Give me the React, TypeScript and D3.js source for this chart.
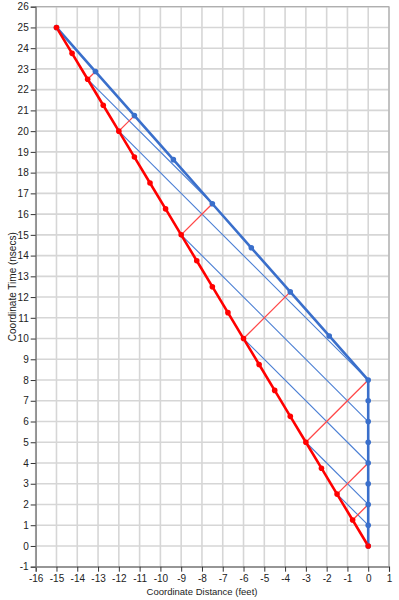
import { useRef, useEffect } from 'react';
import * as d3 from 'd3';

type Pt = [number, number];

// red world line (distance ft, time ns)
const redPoints: Pt[] = [
    [0, 0], [-0.75, 1.25], [-1.5, 2.5], [-2.25, 3.75], [-3, 5], [-3.75, 6.25], [-4.5, 7.5],
    [-5.25, 8.75], [-6, 10], [-6.75, 11.25], [-7.5, 12.5], [-8.25, 13.75], [-9, 15],
    [-9.75, 16.25], [-10.5, 17.5], [-11.25, 18.75], [-12, 20], [-12.75, 21.25],
    [-13.5, 22.5], [-14.25, 23.75], [-15, 25],
];

// blue world line
const bluePoints: Pt[] = [
    [0, 0], [0, 1], [0, 2], [0, 3], [0, 4], [0, 5], [0, 6], [0, 7], [0, 8],
    [-1.875, 10.125], [-3.75, 12.25], [-5.625, 14.375], [-7.5, 16.5], [-9.375, 18.625],
    [-11.25, 20.75], [-13.125, 22.875], [-15, 25],
];

// light signals blue -> red
const blueSignals: [Pt, Pt][] = [
    [[0, 1], [-1.5, 2.5]],
    [[0, 2], [-3, 5]],
    [[0, 4], [-6, 10]],
    [[0, 6], [-9, 15]],
    [[0, 8], [-12, 20]],
    [[-7.5, 16.5], [-13.5, 22.5]],
];

// light signals red -> blue
const redSignals: [Pt, Pt][] = [
    [[-0.75, 1.25], [0, 2]],
    [[-1.5, 2.5], [0, 4]],
    [[-3, 5], [0, 8]],
    [[-6, 10], [-3.75, 12.25]],
    [[-9, 15], [-7.5, 16.5]],
    [[-12, 20], [-11.25, 20.75]],
    [[-13.5, 22.5], [-13.125, 22.875]],
];

const xTicks = d3.range(-16, 2);
const yTicks = d3.range(-1, 27);

const RED = '#ff0000';
const BLUE = '#3a6fcb';

export default function App() {
    const svgRef = useRef<SVGSVGElement>(null);

    useEffect(() => {
        if (!svgRef.current) return;
        const width = 399;
        const height = 600;
        const margin = { top: 6.7, right: 10, bottom: 33.3, left: 35.7 };
        const innerWidth = width - margin.left - margin.right;
        const innerHeight = height - margin.top - margin.bottom;
        const font = '"Liberation Sans", Arial, sans-serif';

        const svg = d3.select(svgRef.current);
        svg.selectAll('*').remove();

        const x = d3.scaleLinear().domain([-16, 1]).range([0, innerWidth]);
        const y = d3.scaleLinear().domain([-1, 26]).range([innerHeight, 0]);

        const g = svg.append('g')
            .attr('transform', `translate(${margin.left},${margin.top})`);

        // Grid
        g.append('g')
            .selectAll('line')
            .data(xTicks)
            .enter()
            .append('line')
            .attr('x1', d => x(d))
            .attr('x2', d => x(d))
            .attr('y1', 0)
            .attr('y2', innerHeight)
            .attr('stroke', '#d6d6d6')
            .attr('stroke-width', 1.6);

        g.append('g')
            .selectAll('line')
            .data(yTicks)
            .enter()
            .append('line')
            .attr('x1', 0)
            .attr('x2', innerWidth)
            .attr('y1', d => y(d))
            .attr('y2', d => y(d))
            .attr('stroke', '#d6d6d6')
            .attr('stroke-width', 1.6);

        g.append('rect')
            .attr('width', innerWidth)
            .attr('height', innerHeight)
            .attr('fill', 'none')
            .attr('stroke', '#a6a6a6')
            .attr('stroke-width', 1);

        const line = d3.line<Pt>().x(d => x(d[0])).y(d => y(d[1]));

        // Light signals
        g.append('g')
            .selectAll('path')
            .data(blueSignals)
            .enter()
            .append('path')
            .attr('d', d => line(d))
            .style('fill', 'none')
            .style('stroke', '#4a7ed4')
            .style('stroke-width', 1.1);

        g.append('g')
            .selectAll('path')
            .data(redSignals)
            .enter()
            .append('path')
            .attr('d', d => line(d))
            .style('fill', 'none')
            .style('stroke', '#ff4848')
            .style('stroke-width', 1.3);

        // World lines
        g.append('path')
            .datum(bluePoints)
            .attr('d', line)
            .attr('fill', 'none')
            .attr('stroke', BLUE)
            .attr('stroke-width', 2.6)
            .attr('stroke-linejoin', 'round');

        g.append('path')
            .datum(redPoints)
            .attr('d', line)
            .attr('fill', 'none')
            .attr('stroke', RED)
            .attr('stroke-width', 2.6)
            .attr('stroke-linejoin', 'round');

        g.append('g')
            .selectAll('circle')
            .data(bluePoints)
            .enter()
            .append('circle')
            .attr('cx', d => x(d[0]))
            .attr('cy', d => y(d[1]))
            .attr('r', 2.8)
            .attr('fill', BLUE);

        g.append('g')
            .selectAll('circle')
            .data(redPoints)
            .enter()
            .append('circle')
            .attr('cx', d => x(d[0]))
            .attr('cy', d => y(d[1]))
            .attr('r', 2.8)
            .attr('fill', RED);

        // Axes
        const xAxis = g.append('g')
            .attr('transform', `translate(0,${innerHeight})`)
            .call(d3.axisBottom(x).tickValues(xTicks).tickFormat(d => String(d)).tickSize(5).tickPadding(3));
        const yAxis = g.append('g')
            .call(d3.axisLeft(y).tickValues(yTicks).tickFormat(d => String(d)).tickSize(5).tickPadding(2));

        [xAxis, yAxis].forEach(a => {
            a.select('.domain').attr('stroke', '#7f7f7f').attr('stroke-width', 1.2);
            a.selectAll('.tick line').attr('stroke', '#333');
            a.selectAll('text')
                .attr('fill', '#222')
                .attr('font-family', font)
                .attr('font-size', '10px');
        });

        // Titles
        svg.append('text')
            .attr('x', 202)
            .attr('y', 595)
            .attr('text-anchor', 'middle')
            .attr('fill', '#222')
            .attr('font-family', font)
            .attr('font-size', '9.5px')
            .text('Coordinate Distance (feet)');

        svg.append('text')
            .attr('transform', `translate(16,${margin.top + innerHeight / 2}) rotate(-90)`)
            .attr('text-anchor', 'middle')
            .attr('fill', '#222')
            .attr('font-family', font)
            .attr('font-size', '10px')
            .text('Coordinate Time (nsecs)');
    }, []);

    return (
        <svg
            ref={svgRef}
            width={399}
            height={600}
            style={{ position: 'absolute', left: 0, top: 0, background: '#fff' }}
        />
    );
}
